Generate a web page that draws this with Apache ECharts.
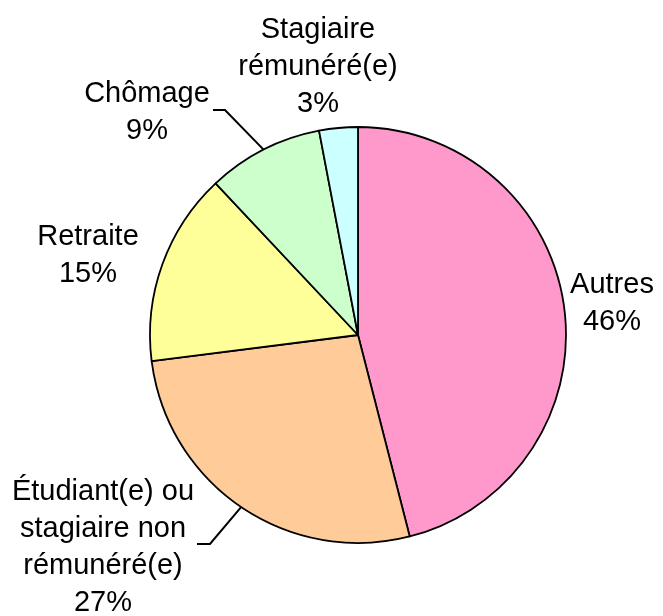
<!DOCTYPE html>
<html>
<head>
<meta charset="utf-8">
<script src="https://cdn.jsdelivr.net/npm/echarts@6/dist/echarts.min.js"></script>
<style>
  html, body { margin: 0; padding: 0; background: #fff; }
  #chart { width: 663px; height: 616px; }
</style>
</head>
<body>
<div id="chart"></div>
<script>
// slices, clockwise from 12 o'clock
const categories = [
  "Autres",
  "Étudiant(e) ou\nstagiaire non\nrémunéré(e)",
  "Retraite",
  "Chômage",
  "Stagiaire\nrémunéré(e)"
];
const values = [46, 27, 15, 9, 3];
const colors = ["#ff99cc", "#ffcc99", "#ffff99", "#ccffcc", "#ccffff"];
// which slices get a leader line
const hasLine = [false, true, false, true, false];

// label block centres and the little horizontal tail of the leader lines
const labelPos = [
  [612, 303],
  [103, 547],
  [88, 255],
  [147, 112],
  [318, 67]
];
const tails = {
  1: [[210, 544], [197, 544]],
  3: [[225, 110], [213, 110]]
};

const chart = echarts.init(document.getElementById("chart"));

chart.setOption({
  backgroundColor: "#fff",
  animation: false,
  series: [
    {
      type: "pie",
      center: [358, 335],
      radius: 208,
      startAngle: 90,
      clockwise: true,
      avoidLabelOverlap: false,
      itemStyle: { borderColor: "#000", borderWidth: 1.8 },
      label: {
        show: true,
        position: "outside",
        formatter: "{b}\n{c}%",
        color: "#000",
        fontFamily: "Liberation Sans, Arial, sans-serif",
        fontSize: 29,
        lineHeight: 37,
        align: "center"
      },
      labelLine: {
        show: true,
        smooth: false,
        lineStyle: { color: "#000", width: 2 }
      },
      emphasis: { disabled: true },
      labelLayout: function (params) {
        const i = params.dataIndex;
        const out = {
          x: labelPos[i][0],
          y: labelPos[i][1],
          align: "center",
          verticalAlign: "middle"
        };
        if (tails[i] && params.labelLinePoints) {
          const start = params.labelLinePoints[0];
          out.labelLinePoints = [start, tails[i][0], tails[i][1]];
        }
        return out;
      },
      data: categories.map(function (name, i) {
        return {
          name: name,
          value: values[i],
          itemStyle: { color: colors[i] },
          labelLine: { show: hasLine[i], lineStyle: { color: "#000", width: 2 } }
        };
      })
    }
  ]
});
</script>
</body>
</html>
